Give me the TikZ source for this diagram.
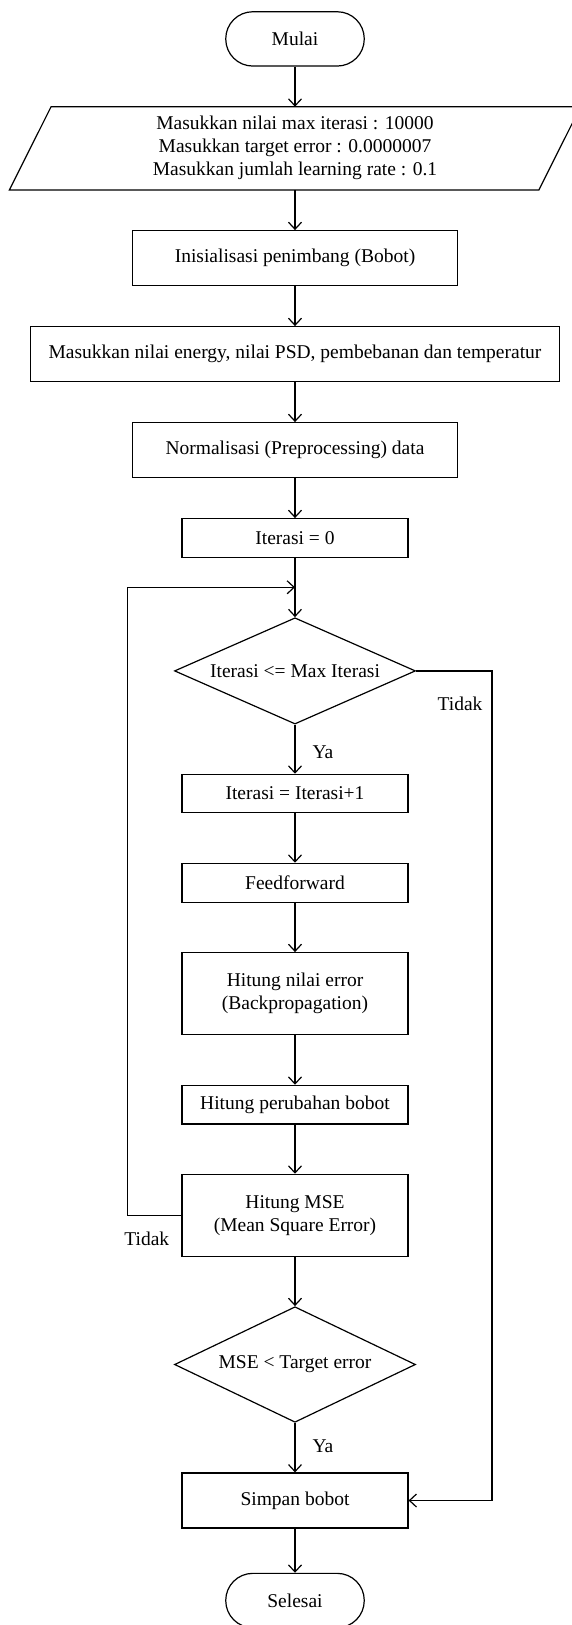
\documentclass[tikz,border=0pt]{standalone}
\usepackage{fontspec}
\setmainfont{Liberation Serif}
\usetikzlibrary{positioning,arrows.meta,calc,shapes.geometric}

\begin{document}
\begin{tikzpicture}[x=1pt,y=-1pt,line width=1.2pt,
  every node/.style={font=\fontsize{19.5}{23}\selectfont},
  terminal/.style={draw,rounded corners=27pt,minimum width=138.5pt,minimum height=54.3pt,inner sep=0pt},
  proses/.style={draw,minimum width=226pt,inner sep=0pt,align=center},
  cabang/.style={draw,diamond,aspect=2.27,minimum width=241pt,inner sep=0pt},
  alur/.style={-{Straight Barb[length=7pt,width=13pt]}},
  ket/.style={inner sep=0pt}]
\useasboundingbox (0,0) rectangle (572,1625);
\node[terminal] (mulai) at (295,38.9) {Mulai};
\node[minimum width=486.6pt,minimum height=82pt,inner sep=0pt,align=center] (input) at (295,148.3) {Masukkan nilai max iterasi : 10000\\Masukkan target error : 0.0000007\\Masukkan jumlah learning rate : 0.1};
\draw (input.north west) -- ([xshift=41.7pt]input.north east) -- (input.south east) -- ([xshift=-41.7pt]input.south west) -- cycle;
\node[proses,minimum width=325pt,minimum height=54.6pt] (init) at (295,258) {Inisialisasi penimbang (Bobot)};
\node[proses,minimum width=529pt,minimum height=55pt] (energi) at (295,354.2) {Masukkan nilai energy, nilai PSD, pembebanan dan temperatur};
\node[proses,minimum width=325pt,minimum height=54.6pt] (norm) at (295,450) {Normalisasi (Preprocessing) data};
\node[proses,minimum height=38.6pt] (iter0) at (295,538) {Iterasi = 0};
\node[cabang,minimum height=106.3pt] (cek1) at (295,670.9) {Iterasi <= Max Iterasi};
\node[proses,minimum height=38.4pt] (iter1) at (295,793.5) {Iterasi = Iterasi+1};
\node[proses,minimum height=39pt] (ff) at (295,882.8) {Feedforward};
\node[proses,minimum height=81.6pt] (galat) at (295,993.5) {Hitung nilai error\\(Backpropagation)};
\node[proses,minimum height=38.7pt] (ubah) at (295,1104.7) {Hitung perubahan bobot};
\node[proses,minimum height=82.4pt] (mse) at (295,1215.5) {Hitung MSE\\(Mean Square Error)};
\node[cabang,minimum height=115.6pt] (cek2) at (295,1364.5) {MSE < Target error};
\node[proses,minimum height=55pt] (simpan) at (295,1500.5) {Simpan bobot};
\node[terminal] (selesai) at (295,1600.5) {Selesai};
\coordinate (kanan) at (492,670.9);
\coordinate (kiri) at (127.7,1215.5);
\coordinate (balik) at (295,587.3);
% alur utama
\foreach \a/\b in {mulai/input,input/init,init/energi,energi/norm,norm/iter0,iter0/cek1,iter1/ff,ff/galat,galat/ubah,ubah/mse,mse/cek2,simpan/selesai}
  \draw[alur] (\a) -- (\b);
\draw[alur] (cek1) -- node[ket,pos=0.557,right=17pt] {Ya} (iter1);
\draw[alur] (cek2) -- node[ket,pos=0.473,right=17pt] {Ya} (simpan);
\draw[alur] (cek1.east) -- (kanan) |- node[ket,pos=0.02,left=9pt] {Tidak} (simpan.east);
\draw[alur] (mse.west) -- node[ket,pos=0.645,below=15.7pt] {Tidak} (kiri) |- (balik);
\end{tikzpicture}
\end{document}
